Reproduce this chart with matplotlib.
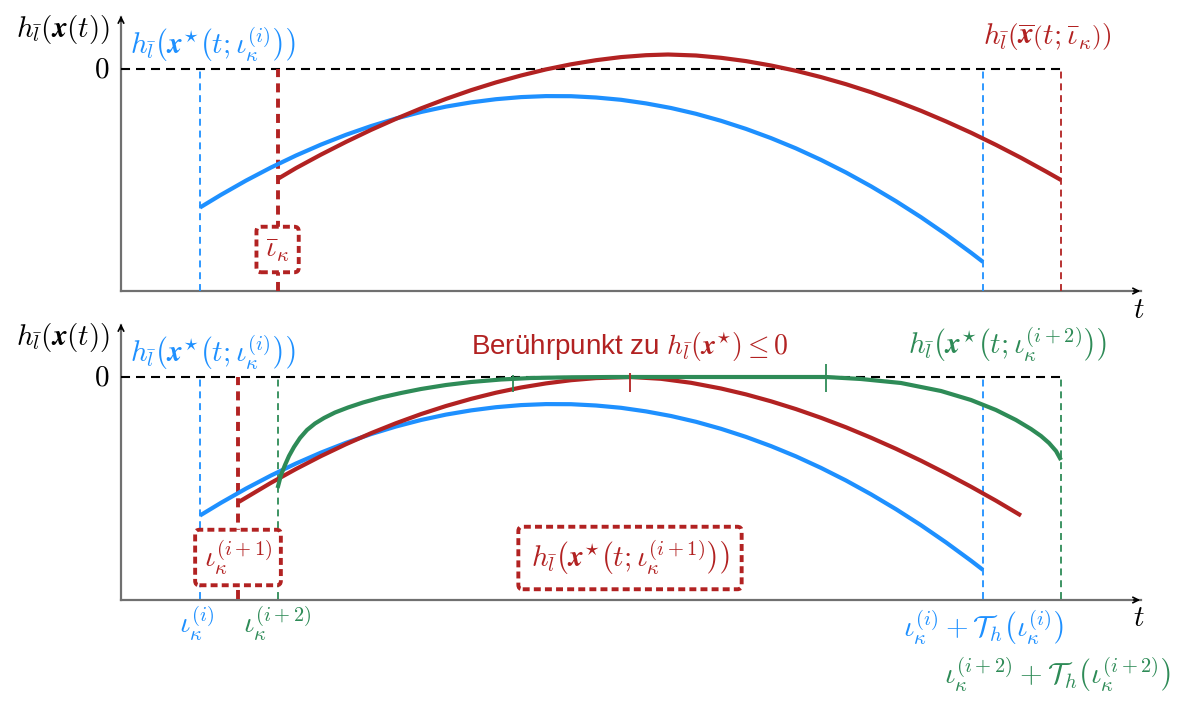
import numpy as np
import matplotlib.pyplot as plt

plt.rcParams['mathtext.fontset'] = 'cm'
plt.rcParams['lines.scale_dashes'] = False

BLUE = '#1E90FF'
RED = '#B22222'
GREEN = '#2E8B57'
AXIS = '#707070'

# t positions of the event times
t_i = 0.79        # iota^(i)
t_i1 = 1.17       # iota^(i+1)
t_i2 = 1.566      # iota^(i+2) / bar iota
t_i_end = 8.62    # iota^(i) + T_h
t_i2_end = 9.40   # iota^(i+2) + T_h

# h(x*(t; iota^(i))) -- same trajectory in both panels
blue_t = [0.79, 1.0, 1.25, 1.5, 1.75, 2.0, 2.25, 2.5, 2.75, 3.0, 3.25, 3.5,
          3.75, 4.0, 4.25, 4.5, 4.75, 5.0, 5.25, 5.5, 5.75, 6.0, 6.25, 6.5,
          6.75, 7.0, 7.25, 7.5, 7.75, 8.0, 8.25, 8.5, 8.62]
blue_h = [-1.385, -1.258, -1.116, -0.985, -0.865, -0.756, -0.658, -0.571,
          -0.495, -0.430, -0.376, -0.334, -0.302, -0.281, -0.271, -0.272,
          -0.285, -0.308, -0.344, -0.390, -0.448, -0.518, -0.599, -0.691,
          -0.794, -0.909, -1.035, -1.173, -1.322, -1.482, -1.654, -1.837, -1.929]

# h(xbar(t; bar iota)) -- upper panel
red_top_t = [1.566, 1.75, 2.0, 2.25, 2.5, 2.75, 3.0, 3.25, 3.5, 3.75, 4.0,
             4.25, 4.5, 4.75, 5.0, 5.25, 5.47, 5.75, 6.0, 6.25, 6.5, 6.75,
             7.0, 7.25, 7.5, 7.75, 8.0, 8.25, 8.5, 8.75, 9.0, 9.25, 9.4]
red_top_h = [-1.10, -0.991, -0.856, -0.729, -0.609, -0.498, -0.394, -0.299,
             -0.212, -0.134, -0.065, -0.004, 0.047, 0.088, 0.119, 0.138, 0.145,
             0.135, 0.112, 0.079, 0.035, -0.018, -0.081, -0.152, -0.232,
             -0.321, -0.418, -0.524, -0.637, -0.759, -0.888, -1.025, -1.110]

# h(x*(t; iota^(i+1))) -- lower panel
red_bot_t = [1.18, 1.5, 1.75, 2.0, 2.25, 2.5, 2.75, 3.0, 3.25, 3.5, 3.75, 4.0,
             4.25, 4.5, 4.75, 5.1, 5.4, 5.7, 6.0, 6.25, 6.5, 6.75, 7.0, 7.25,
             7.5, 7.75, 8.0, 8.25, 8.5, 8.75, 9.0]
red_bot_h = [-1.248, -1.058, -0.920, -0.791, -0.672, -0.562, -0.462, -0.371,
             -0.290, -0.219, -0.157, -0.105, -0.064, -0.032, -0.011, 0.0,
             -0.018, -0.058, -0.115, -0.174, -0.243, -0.321, -0.408, -0.503,
             -0.607, -0.718, -0.837, -0.964, -1.097, -1.237, -1.385]

# h(x*(t; iota^(i+2))) -- lower panel
green_t = [1.566, 1.60, 1.64, 1.68, 1.73, 1.79, 1.86, 1.94, 2.03, 2.14, 2.27,
           2.42, 2.6, 2.8, 3.0, 3.25, 3.5, 3.8, 4.1, 4.5, 4.9, 7.05, 7.4, 7.8,
           8.2, 8.5, 8.75, 8.95, 9.1, 9.2, 9.28, 9.35, 9.40]
green_h = [-1.11, -0.98, -0.88, -0.79, -0.70, -0.61, -0.53, -0.465, -0.41,
           -0.355, -0.305, -0.255, -0.205, -0.16, -0.12, -0.08, -0.05, -0.025,
           -0.01, -0.003, 0.0, 0.0, -0.02, -0.06, -0.14, -0.23, -0.33, -0.43,
           -0.52, -0.59, -0.66, -0.74, -0.83]

# touching points marked on the zero line
touch_green = [3.92, 7.05]
touch_red = 5.09

T_MAX = 10.2
H_MIN = -2.22

fig = plt.figure(figsize=(11.81, 7.15), dpi=100)
ax1 = fig.add_axes([121/1181, (715-291)/715, 1029/1181, 281/715])
ax2 = fig.add_axes([121/1181, (715-600)/715, 1029/1181, 282/715])
ax1.set_xlim(0, 10.29); ax1.set_ylim(-2.22, 0.59)
ax2.set_xlim(0, 10.29); ax2.set_ylim(-2.23, 0.59)

FS = 21
ylab = r'$h_{\bar{l}}(\boldsymbol{x}(t))$'
blue_lab = r'$h_{\bar{l}}\left(\boldsymbol{x}^{\star}\left(t;\iota_{\kappa}^{(i)}\right)\right)$'
thin = (0, (5, 3.5))
thick = (0, (6.5, 4.5))

for ax in (ax1, ax2):
    ax.axis('off')
    ymin = ax.get_ylim()[0]
    # axes with arrow heads
    ax.plot([0, T_MAX], [ymin, ymin], color=AXIS, lw=1.6, clip_on=False, zorder=1)
    ax.plot([0, 0], [ymin, 0.52], color=AXIS, lw=1.6, clip_on=False, zorder=1)
    ax.annotate('', xy=(T_MAX + 0.02, ymin), xytext=(T_MAX - 0.1, ymin),
                arrowprops=dict(arrowstyle='->', color='k', lw=1.2), annotation_clip=False)
    ax.annotate('', xy=(0, 0.56), xytext=(0, 0.45),
                arrowprops=dict(arrowstyle='->', color='k', lw=1.2), annotation_clip=False)
    ax.plot([0, t_i2_end], [0, 0], color='k', lw=1.5, dashes=(6.5, 4.3), zorder=2)
    ax.text(-0.12, 0, r'$0$', fontsize=FS, ha='right', va='center')
    ax.text(-0.11, 0.40, ylab, fontsize=FS, ha='right', va='center')
    ax.text(T_MAX - 0.02, -2.41, r'$t$', fontsize=FS, ha='center', va='center')
    ax.text(0.09, 0.24, blue_lab, fontsize=FS, ha='left', va='center', color=BLUE)
    ax.plot(blue_t, blue_h, color=BLUE, lw=3, zorder=4, solid_capstyle='butt')

# upper panel
ax1.vlines([t_i, t_i_end], ymin=H_MIN, ymax=0, color=BLUE, lw=1.3, linestyles=thin, zorder=3)
ax1.vlines(t_i2_end, ymin=H_MIN, ymax=0, color=RED, lw=1.3, linestyles=thin, zorder=3)
ax1.vlines(t_i2, ymin=H_MIN, ymax=0, color=RED, lw=2.8, linestyles=thick, zorder=3)
ax1.plot(red_top_t, red_top_h, color=RED, lw=3, zorder=5, solid_capstyle='butt')
ax1.text(9.26, 0.32, r'$h_{\bar{l}}\left(\overline{\boldsymbol{x}}\left(t;\bar{\iota}_{\kappa}\right)\right)$',
         fontsize=FS, ha='center', va='center', color=RED)
box = dict(boxstyle='round,pad=0.3,rounding_size=0.15', fc='white', ec=RED, lw=2.8,
           ls=(0, (5, 3)))
wide_box = dict(box, boxstyle='round,pad=0.42,rounding_size=0.15')
ax1.text(t_i2, -1.805, r'$\bar{\iota}_{\kappa}$', fontsize=FS, ha='center', va='center',
         color=RED, bbox=box, zorder=6)

# lower panel
ax2.vlines([t_i, t_i_end], ymin=H_MIN, ymax=0, color=BLUE, lw=1.3, linestyles=thin, zorder=3)
ax2.vlines([t_i2, t_i2_end], ymin=H_MIN, ymax=0, color=GREEN, lw=1.3, linestyles=thin, zorder=3)
ax2.vlines(t_i1, ymin=H_MIN, ymax=0, color=RED, lw=2.8, linestyles=thick, zorder=3)
ax2.plot(red_bot_t, red_bot_h, color=RED, lw=3, zorder=5, solid_capstyle='butt')
ax2.plot(green_t, green_h, color=GREEN, lw=3, zorder=6, solid_capstyle='butt')
ax2.vlines(touch_green[0], -0.15, 0.02, color=GREEN, lw=1.3, zorder=7)
ax2.vlines(touch_green[1], -0.15, 0.13, color=GREEN, lw=1.3, zorder=7)
ax2.vlines(touch_red, -0.15, 0.04, color=RED, lw=1.3, zorder=7)

ax2.text(touch_red, 0.30, r'Berührpunkt zu $h_{\bar{l}}(\boldsymbol{x}^{\star})\leq 0$',
         fontsize=20, ha='center', va='center', color=RED, family='Liberation Sans')
ax2.text(8.86, 0.32, r'$h_{\bar{l}}\left(\boldsymbol{x}^{\star}\left(t;\iota_{\kappa}^{(i+2)}\right)\right)$',
         fontsize=FS, ha='center', va='center', color=GREEN)
ax2.text(t_i1, -1.805, r'$\iota_{\kappa}^{(i+1)}$', fontsize=FS, ha='center', va='center',
         color=RED, bbox=box, zorder=8)
ax2.text(touch_red, -1.81, r'$h_{\bar{l}}\left(\boldsymbol{x}^{\star}\left(t;\iota_{\kappa}^{(i+1)}\right)\right)$',
         fontsize=FS, ha='center', va='center', color=RED, bbox=wide_box, zorder=8)

# event times below the t axis
ax2.text(t_i - 0.04, -2.47, r'$\iota_{\kappa}^{(i)}$', fontsize=FS, ha='center', va='center',
         color=BLUE)
ax2.text(t_i2, -2.47, r'$\iota_{\kappa}^{(i+2)}$', fontsize=FS, ha='center', va='center',
         color=GREEN)
ax2.text(t_i_end, -2.51, r'$\iota_{\kappa}^{(i)}+\mathcal{T}_h\left(\iota_{\kappa}^{(i)}\right)$',
         fontsize=FS, ha='center', va='center', color=BLUE)
ax2.text(t_i2_end - 0.04, -2.98,
         r'$\iota_{\kappa}^{(i+2)}+\mathcal{T}_h\left(\iota_{\kappa}^{(i+2)}\right)$',
         fontsize=FS, ha='center', va='center', color=GREEN, clip_on=False)

fig.savefig('out.png', dpi=100)
